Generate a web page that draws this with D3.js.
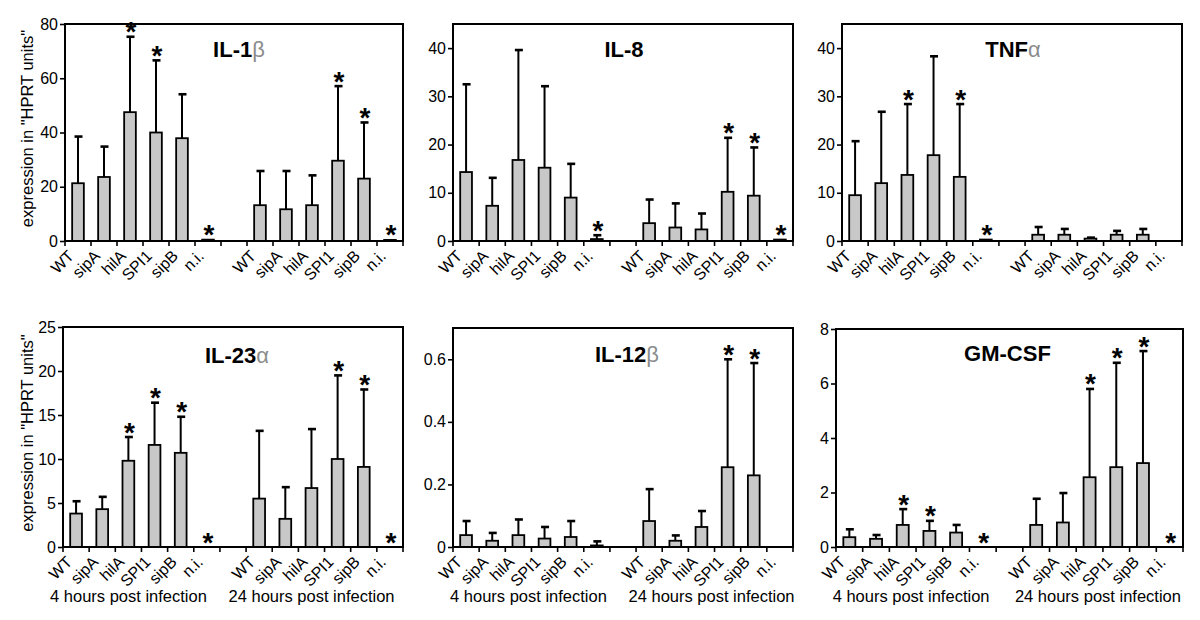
<!DOCTYPE html>
<html><head><meta charset="utf-8">
<script src="https://cdn.jsdelivr.net/npm/d3@7"></script>
<style>
body{margin:0;background:#fff}
svg{display:block}
text{font-family:"Liberation Sans",Arial,Helvetica,sans-serif}
</style>
</head><body>
<svg id="chart" width="1200" height="620"></svg>
<script>
// ---------- data ----------
const categories = ["WT", "sipA", "hilA", "SPI1", "sipB", "n.i."];
const groups = ["4 hours post infection", "24 hours post infection"];
const yAxisTitle = "expression in \"HPRT units\"";

// order: 4h WT..n.i., then 24h WT..n.i.
const il1bMean = [21.3, 23.6, 47.5, 40.0, 37.9, 0.5, 13.2, 11.7, 13.2, 29.6, 23.0, 0.4];
const il1bErr  = [17.2, 11.2, 27.8, 26.6, 16.2, 0, 12.6, 14.1, 11.0, 27.5, 20.7, 0];
const il1bSig  = [0, 0, 1, 1, 0, 1, 0, 0, 0, 1, 1, 1];
const il1bTicks = [0, 20, 40, 60, 80];

const il8Mean = [14.3, 7.3, 16.8, 15.2, 9.0, 0.4, 3.7, 2.8, 2.4, 10.2, 9.4, 0.3];
const il8Err  = [18.2, 5.8, 22.8, 16.9, 7.0, 0.8, 4.9, 5.0, 3.3, 11.2, 10.0, 0];
const il8Sig  = [0, 0, 0, 0, 0, 1, 0, 0, 0, 1, 1, 1];
const il8Ticks = [0, 10, 20, 30, 40];

const tnfMean = [9.5, 12.0, 13.7, 17.8, 13.3, 0.3, 1.3, 1.3, 0.5, 1.3, 1.3, 0];
const tnfErr  = [11.2, 14.8, 14.7, 20.5, 15.1, 0, 1.6, 1.2, 0.2, 0.8, 1.2, 0];
const tnfSig  = [0, 0, 1, 0, 1, 1, 0, 0, 0, 0, 0, 0];
const tnfTicks = [0, 10, 20, 30, 40];

const il23Mean = [3.8, 4.3, 9.8, 11.6, 10.7, 0, 5.5, 3.2, 6.7, 10.0, 9.1, 0];
const il23Err  = [1.4, 1.4, 2.7, 4.8, 4.1, 0, 7.7, 3.6, 6.7, 9.5, 8.8, 0];
const il23Sig  = [0, 0, 1, 1, 1, 1, 0, 0, 0, 1, 1, 1];
const il23Ticks = [0, 5, 10, 15, 20, 25];

const il12Mean = [0.038, 0.02, 0.038, 0.027, 0.032, 0.005, 0.083, 0.02, 0.064, 0.255, 0.229, 0];
const il12Err  = [0.045, 0.025, 0.05, 0.037, 0.051, 0.013, 0.102, 0.017, 0.051, 0.345, 0.359, 0];
const il12Sig  = [0, 0, 0, 0, 0, 0, 0, 0, 0, 1, 1, 0];
const il12Ticks = [0, 0.2, 0.4, 0.6];

const gmMean = [0.36, 0.30, 0.81, 0.59, 0.53, 0, 0.81, 0.90, 2.56, 2.93, 3.08, 0];
const gmErr  = [0.29, 0.14, 0.58, 0.37, 0.28, 0, 0.96, 1.08, 3.24, 3.83, 4.11, 0];
const gmSig  = [0, 0, 1, 1, 0, 1, 0, 0, 1, 1, 1, 1];
const gmTicks = [0, 2, 4, 6, 8];

// ---------- layout ----------
const panels = [
  {title: "IL-1", greek: "β", mean: il1bMean, err: il1bErr, sig: il1bSig, ticks: il1bTicks, yMax: 80,
   box: [65, 24, 403, 241], titleDx: 5, titleY: 57, yTitle: true, groupLabels: false},
  {title: "IL-8", greek: "", mean: il8Mean, err: il8Err, sig: il8Sig, ticks: il8Ticks, yMax: 45,
   box: [453, 24, 793, 241], titleDx: 1, titleY: 57, yTitle: false, groupLabels: false},
  {title: "TNF", greek: "α", mean: tnfMean, err: tnfErr, sig: tnfSig, ticks: tnfTicks, yMax: 45,
   box: [842, 24, 1182, 241], titleDx: 1, titleY: 57, yTitle: false, groupLabels: false},
  {title: "IL-23", greek: "α", mean: il23Mean, err: il23Err, sig: il23Sig, ticks: il23Ticks, yMax: 25,
   box: [63, 327, 403, 547], titleDx: 4, titleY: 363, yTitle: true, groupLabels: true, groupDx: -13},
  {title: "IL-12", greek: "β", mean: il12Mean, err: il12Err, sig: il12Sig, ticks: il12Ticks, yMax: 0.7,
   box: [453, 328, 793, 547], titleDx: 4, titleY: 362, yTitle: false, groupLabels: true, groupDx: -3},
  {title: "GM-CSF", greek: "", mean: gmMean, err: gmErr, sig: gmSig, ticks: gmTicks, yMax: 8,
   box: [836, 329, 1183, 547], titleDx: -2, titleY: 361, yTitle: false, groupLabels: true, groupDx: -5}
];

const svg = d3.select("#chart");
const nSlots = categories.length * 2 + 1;
const slotOf = i => (i < categories.length ? i : i + 1);

panels.forEach(p => {
  const [x0, y1, x1, y0] = p.box;
  const g = svg.append("g");
  const xs = d3.scaleBand().domain(d3.range(nSlots)).range([x0, x1]).padding(0);
  const ys = d3.scaleLinear().domain([0, p.yMax]).range([y0, y1]);
  const bw = xs.bandwidth() * 0.45;
  const cx = i => xs(slotOf(i)) + xs.bandwidth() / 2;
  const labels = groups.flatMap(() => categories);

  // frame
  g.append("rect").attr("x", x0).attr("y", y1).attr("width", x1 - x0).attr("height", y0 - y1)
    .attr("fill", "none").attr("stroke", "#000").attr("stroke-width", 2);

  // bars
  const idx = d3.range(p.mean.length);
  g.selectAll("rect.bar").data(idx.filter(i => p.mean[i] > 0)).join("rect")
    .attr("class", "bar")
    .attr("x", i => cx(i) - bw / 2)
    .attr("y", i => ys(p.mean[i]))
    .attr("width", bw)
    .attr("height", i => Math.max(0.5, ys(0) - ys(p.mean[i])))
    .attr("fill", "#c8c8c8").attr("stroke", "#000").attr("stroke-width", 1.8);

  // error bars (upper only)
  const eIdx = idx.filter(i => p.err[i] > 0);
  g.selectAll("line.err").data(eIdx).join("line").attr("class", "err")
    .attr("x1", cx).attr("x2", cx)
    .attr("y1", i => ys(p.mean[i])).attr("y2", i => ys(p.mean[i] + p.err[i]))
    .attr("stroke", "#000").attr("stroke-width", 2);
  g.selectAll("line.cap").data(eIdx).join("line").attr("class", "cap")
    .attr("x1", i => cx(i) - 3.5).attr("x2", i => cx(i) + 4.5)
    .attr("y1", i => ys(p.mean[i] + p.err[i])).attr("y2", i => ys(p.mean[i] + p.err[i]))
    .attr("stroke", "#000").attr("stroke-width", 2.6);

  // significance stars
  g.selectAll("text.star").data(idx.filter(i => p.sig[i])).join("text").attr("class", "star")
    .attr("x", i => cx(i) + 1)
    .attr("y", i => ys(p.mean[i] + p.err[i]) + 4.5)
    .attr("text-anchor", "middle")
    .attr("font-size", 28).attr("font-weight", "bold")
    .text("*");

  // y axis
  const ya = g.append("g").attr("transform", `translate(${x0},0)`)
    .call(d3.axisLeft(ys).tickValues(p.ticks).tickSize(5).tickSizeOuter(0).tickPadding(2)
      .tickFormat(d3.format("~g")));
  ya.select(".domain").remove();
  ya.selectAll(".tick line").attr("stroke-width", 1.6);
  ya.selectAll(".tick text").attr("font-size", 16)
    .attr("font-family", "Liberation Sans, Arial, sans-serif").attr("fill", "#000");

  // x axis line and ticks at slot boundaries
  g.append("line").attr("x1", x0).attr("x2", x1).attr("y1", y0).attr("y2", y0)
    .attr("stroke", "#000").attr("stroke-width", 2);
  g.selectAll("line.xt").data(d3.range(nSlots + 1)).join("line").attr("class", "xt")
    .attr("x1", k => x0 + k * xs.step()).attr("x2", k => x0 + k * xs.step())
    .attr("y1", y0).attr("y2", y0 + 5)
    .attr("stroke", "#000").attr("stroke-width", 1.6);

  // category labels (rotated)
  g.selectAll("text.xl").data(idx).join("text").attr("class", "xl")
    .attr("transform", i => `translate(${cx(i) - 3},${y0 + 16}) rotate(-45)`)
    .attr("text-anchor", "end")
    .attr("font-size", 16)
    .text(i => labels[i]);

  // title
  const t = g.append("text")
    .attr("x", (x0 + x1) / 2 + p.titleDx).attr("y", p.titleY)
    .attr("text-anchor", "middle").attr("font-size", 22);
  t.append("tspan").attr("font-weight", "bold").text(p.title);
  if (p.greek) t.append("tspan").attr("fill", "#8c8c8c").attr("font-weight", "normal").text(p.greek);

  // y axis title
  if (p.yTitle) {
    g.append("text")
      .attr("transform", `translate(33,${(y0 + y1) / 2 - 4}) rotate(-90)`)
      .attr("text-anchor", "middle").attr("font-size", 16.5)
      .text(yAxisTitle);
  }

  // group labels
  if (p.groupLabels) {
    groups.forEach((gl, gi) => {
      const first = cx(gi * categories.length), last = cx(gi * categories.length + categories.length - 1);
      g.append("text")
        .attr("x", (first + last) / 2 + p.groupDx).attr("y", 602)
        .attr("text-anchor", "middle").attr("font-size", 16.5)
        .text(gl);
    });
  }
});
</script>
</body></html>
